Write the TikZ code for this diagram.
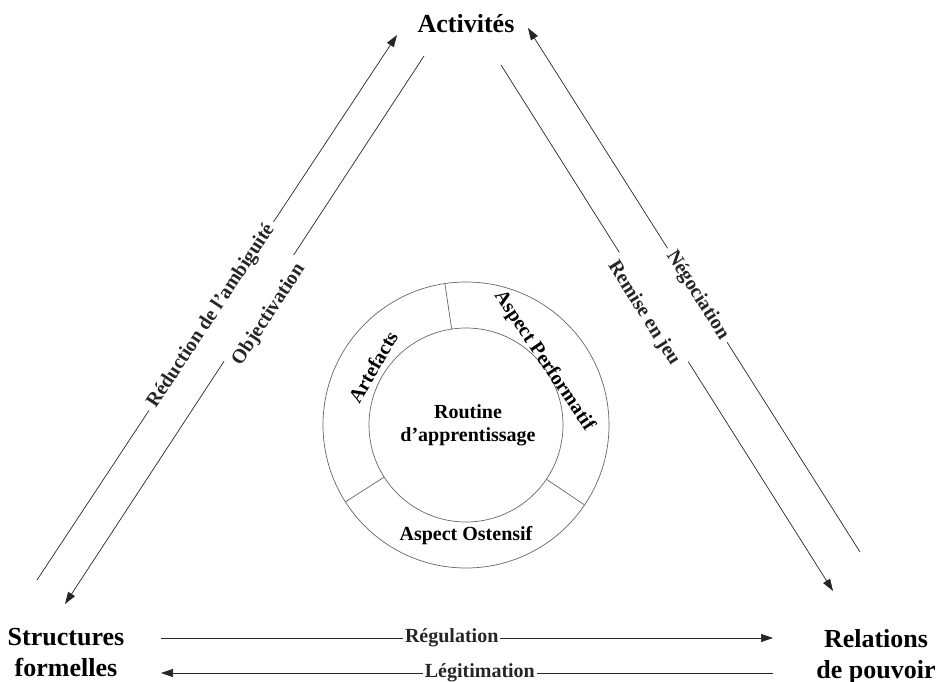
\documentclass[tikz,border=0pt]{standalone}
\usepackage{fontspec}
\setmainfont{Liberation Serif}
\usetikzlibrary{arrows.meta}

\begin{document}
\begin{tikzpicture}[x=1pt, y=1pt,
    pole/.style={font=\fontsize{26}{31}\selectfont\bfseries, align=center, inner sep=0pt},
    lbl/.style={font=\fontsize{20}{23}\selectfont\bfseries, fill=white, inner sep=5pt},
    ringlbl/.style={font=\fontsize{20}{23}\selectfont\bfseries, align=center, inner sep=0pt},
    fleche/.style={-{Triangle[length=12pt,width=8pt]}, line width=0.7pt, black!85},
    anneau/.style={line width=0.7pt, black!60}]
    \def\rout{143}
    \def\rin{97}
    \useasboundingbox (0,0) rectangle (939,681);

    \node[pole, anchor=base] (act) at (466,648) {Activités};
    \node[pole] (struct) at (66,28) {Structures\\formelles};
    \node[pole] (rel) at (876,24) {Relations\\de pouvoir};

    % routine au centre
    \coordinate (ctr) at (466,256);
    \draw[anneau] (ctr) circle[radius=\rout];
    \draw[anneau] (ctr) circle[radius=\rin];
    \foreach \a in {98.5,212.5,326} {
        \draw[anneau] ([shift={(\a:\rin)}]ctr) -- ([shift={(\a:\rout)}]ctr);
    }
    \node[ringlbl] (routine) at (468,256) {Routine\\d’apprentissage};
    \node[ringlbl, rotate=60] (artef) at (373,314) {Artefacts};
    \node[ringlbl, rotate=-56] (perf) at (544,320) {Aspect Performatif};
    \node[ringlbl] (ost) at (466,145) {Aspect Ostensif};

    % bouts des fleches
    \coordinate (redA) at (37,101);
    \coordinate (redB) at (397,646);
    \coordinate (objA) at (424,625);
    \coordinate (objB) at (65,77);
    \coordinate (remA) at (501,616);
    \coordinate (remB) at (833,90);
    \coordinate (negA) at (860,129);
    \coordinate (negB) at (528,653);
    \coordinate (regA) at (161,43);
    \coordinate (regB) at (773,43);
    \coordinate (legA) at (773,8);
    \coordinate (legB) at (161,8);

    \draw[fleche] (redA) -- node[lbl, sloped, pos=0.484] (red) {Réduction de l’ambiguité} (redB);
    \draw[fleche] (objA) -- node[lbl, sloped, pos=0.46, yshift=-12] (obj) {Objectivation} (objB);
    \draw[fleche] (remA) -- node[lbl, sloped, pos=0.46, yshift=-12] (rem) {Remise en jeu} (remB);
    \draw[fleche] (negA) -- node[lbl, sloped, pos=0.49] (neg) {Négociation} (negB);
    \draw[fleche] (regA) -- node[lbl, inner sep=2pt, pos=0.475] (reg) {Régulation} (regB);
    \draw[fleche] (legA) -- node[lbl, inner sep=2pt, pos=0.479] (leg) {Légitimation} (legB);
\end{tikzpicture}
\end{document}
